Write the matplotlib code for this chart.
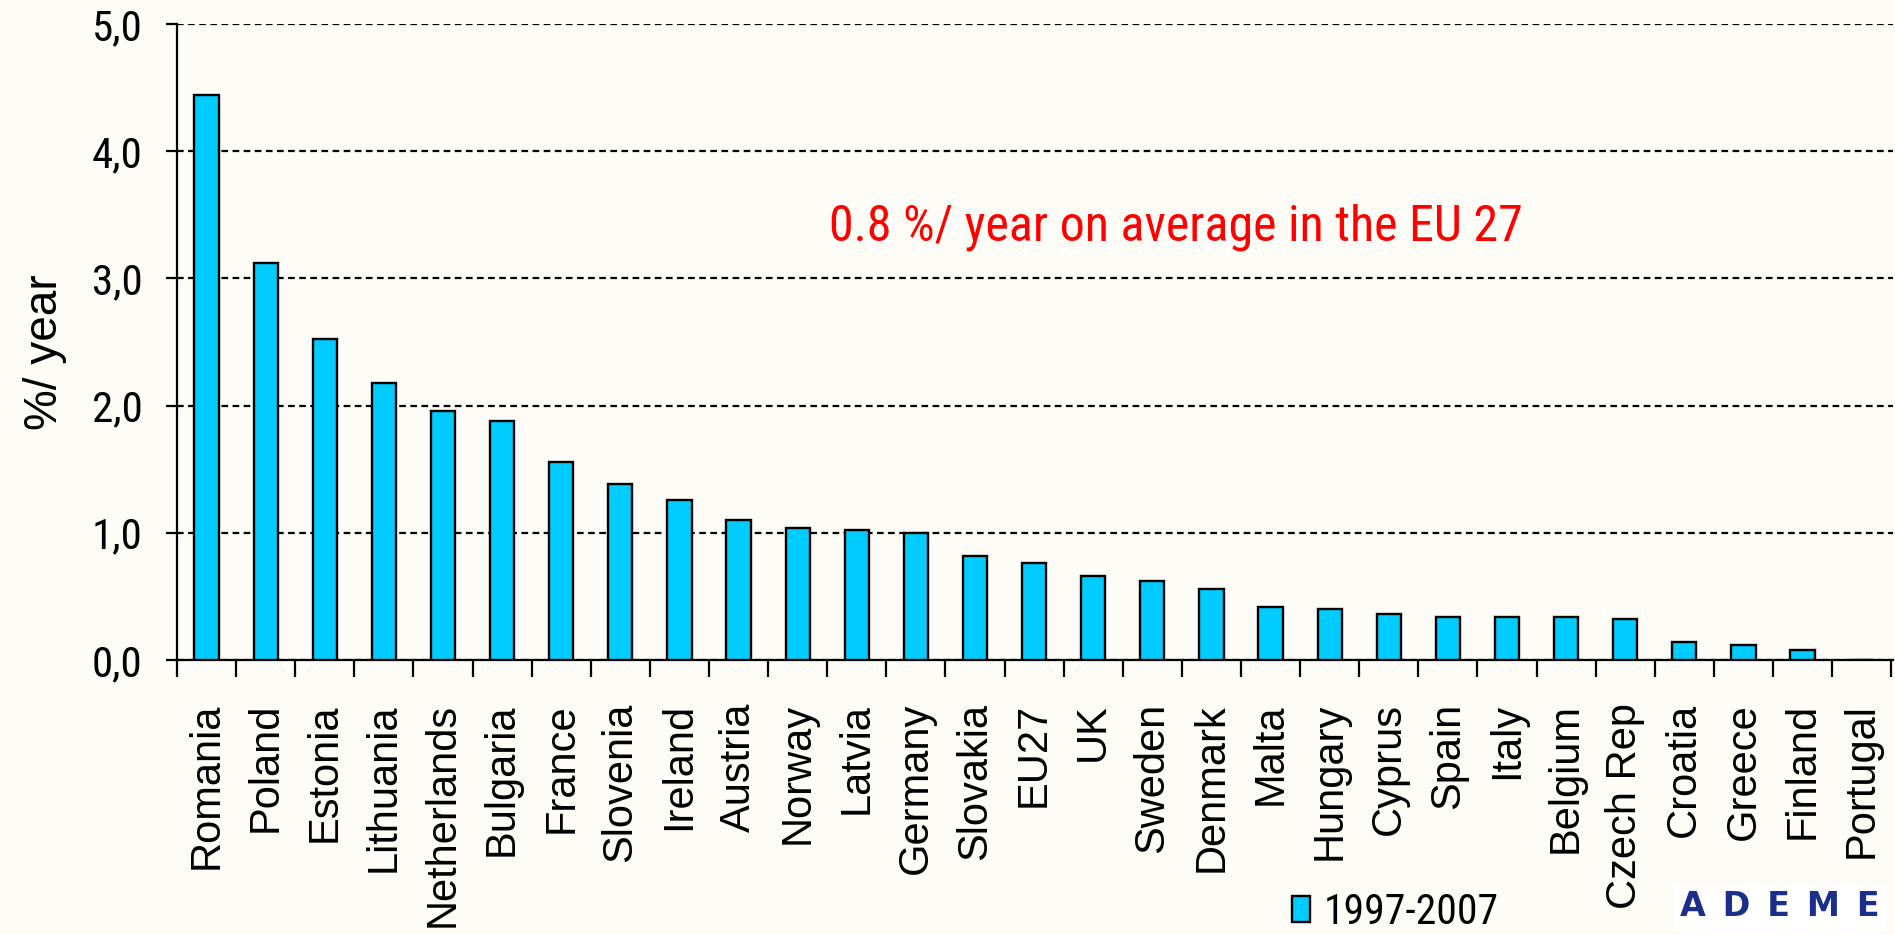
import numpy as np
import matplotlib
matplotlib.use("Agg")
import matplotlib.pyplot as plt
from matplotlib import font_manager

# data
countries = ['Romania', 'Poland', 'Estonia', 'Lithuania', 'Netherlands', 'Bulgaria',
             'France', 'Slovenia', 'Ireland', 'Austria', 'Norway', 'Latvia', 'Germany',
             'Slovakia', 'EU27', 'UK', 'Sweden', 'Denmark', 'Malta', 'Hungary', 'Cyprus',
             'Spain', 'Italy', 'Belgium', 'Czech Rep', 'Croatia', 'Greece', 'Finland',
             'Portugal']
rate = [4.44, 3.12, 2.52, 2.18, 1.96, 1.88, 1.56, 1.38, 1.26, 1.10, 1.04, 1.02, 1.00,
        0.82, 0.76, 0.66, 0.62, 0.56, 0.42, 0.40, 0.36, 0.34, 0.34, 0.34, 0.32, 0.14,
        0.12, 0.08, 0.0]
yticks = [0, 1, 2, 3, 4, 5]
ytick_labels = ['0,0', '1,0', '2,0', '3,0', '4,0', '5,0']
period = '1997-2007'
note = '0.8 %/ year on average in the EU 27'


def narrow_font(size):
    # look for any installed condensed sans; plain Liberation Sans otherwise
    ttf = font_manager.fontManager.ttflist
    for fam in ['Liberation Sans Narrow', 'Roboto Condensed', 'Open Sans Condensed',
                'Noto Sans', 'Open Sans', 'Roboto', 'DejaVu Sans']:
        for f in ttf:
            if f.name == fam and f.style == 'normal' and f.weight in (400, 'normal') \
                    and (f.stretch in ('condensed', 'semi-condensed', 'extra-condensed')
                         or 'Narrow' in fam or 'Condensed' in fam):
                return font_manager.FontProperties(fname=f.fname, size=size)
    return font_manager.FontProperties(family='Liberation Sans', size=size, stretch='condensed')


bg = '#FDFCF7'
plt.rcParams['font.family'] = ['Liberation Sans', 'DejaVu Sans']

fig = plt.figure(figsize=(18.95, 9.34), dpi=100, facecolor=bg)
ax = fig.add_axes([177/1895, 274/934, 1716/1895, 636/934])
ax.set_facecolor(bg)

x = np.arange(len(countries))
ax.bar(x, rate, width=0.41, color='#00CCFF', edgecolor='black', linewidth=1.7,
       label=period, zorder=3)

ax.set_xlim(-0.5, len(countries) - 0.5 + 0.03)
ax.set_ylim(0, 5)

for s in ['top', 'right']:
    ax.spines[s].set_visible(False)
for s in ['left', 'bottom']:
    ax.spines[s].set_linewidth(1.6)

ax.set_yticks(yticks)
ax.set_yticklabels(ytick_labels, fontproperties=narrow_font(31))
ax.tick_params(axis='y', length=8, width=1.6, pad=17)
ax.yaxis.grid(True, color='black', linestyle=(0, (3, 2)), linewidth=1.6)
ax.set_axisbelow(True)

ax.set_xticks(x)
ax.set_xticklabels(countries, rotation=90, fontsize=30, va='top', ha='center')
ax.tick_params(axis='x', length=0, pad=31)
ax.set_xticks(np.arange(-0.5, len(countries)), minor=True)
ax.tick_params(axis='x', which='minor', length=12, width=1.6, direction='out')

ax.set_ylabel('%/ year', fontsize=33)
ax.yaxis.set_label_coords(-0.064, 0.484)

ax.text(0.380, 0.681, note, transform=ax.transAxes, color='red',
        fontproperties=narrow_font(36), ha='left', va='center')

fig.legend(loc='center left', bbox_to_anchor=(1292/1895, 22/934), frameon=False,
           prop=narrow_font(30), handlelength=0.42, handleheight=0.57,
           handletextpad=0.35, borderpad=0, borderaxespad=0)

fig.text(1680/1895, 27/934, 'A\u2002D\u2002E\u2002M\u2002E',
         color='#1C2E8C', fontsize=24, family='DejaVu Sans', weight='bold',
         ha='left', va='center',
         bbox=dict(facecolor='white', edgecolor='none', pad=5))

fig.savefig('out.png', dpi=100, facecolor=bg)
